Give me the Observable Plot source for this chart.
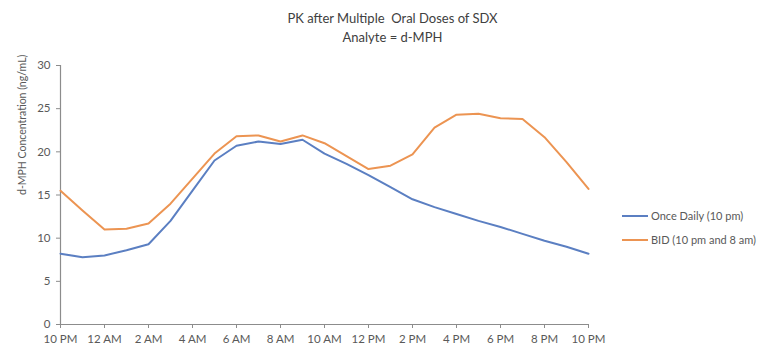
<!DOCTYPE html>
<html>
<head>
<meta charset="utf-8">
<script src="https://cdn.jsdelivr.net/npm/d3@7"></script>
<script src="https://cdn.jsdelivr.net/npm/@observablehq/plot@0.6"></script>
<style>
  body { margin: 0; background: #fff; }
  #wrap { position: relative; width: 775px; height: 352px; font-family: Lato, "Open Sans", sans-serif; }
  .title { position: absolute; left: 0; width: 785px; text-align: center; color: #404040; font-size: 13px; white-space: pre; }
  .legend { position: absolute; left: 622px; font-size: 11px; color: #595959; display: flex; align-items: center; }
  .legend span.sw { display: inline-block; width: 26px; height: 2px; margin-right: 3px; }
</style>
</head>
<body>
<div id="wrap"></div>
<script>
// Hours after the 10 PM dose (0 = 10 PM, 24 = 10 PM next day)
const hours = [0,1,2,3,4,5,6,7,8,9,10,11,12,13,14,15,16,17,18,19,20,21,22,23,24];
const onceDaily = [8.2,7.8,8.0,8.6,9.3,12.0,15.5,19.0,20.7,21.2,20.9,21.4,19.8,18.6,17.3,15.9,14.5,13.6,12.8,12.0,11.3,10.5,9.7,9.0,8.2];
const bid = [15.5,13.2,11.0,11.1,11.7,14.0,16.9,19.8,21.8,21.9,21.2,21.9,21.0,19.5,18.0,18.4,19.7,22.8,24.3,24.4,23.9,23.8,21.7,18.8,15.7];
const tickHours = [0,2,4,6,8,10,12,14,16,18,20,22,24];
const tickLabels = ["10 PM","12 AM","2 AM","4 AM","6 AM","8 AM","10 AM","12 PM","2 PM","4 PM","6 PM","8 PM","10 PM"];
const yTicks = [0,5,10,15,20,25,30];
const seriesNames = ["Once Daily (10 pm)", "BID (10 pm and 8 am)"];
const seriesColors = ["#5b7fc2", "#ec9452"];
const titleLines = ["PK after Multiple  Oral Doses of SDX", "Analyte = d-MPH"];
const yLabel = "d-MPH Concentration (ng/mL)";

const rows = [];
hours.forEach((h, i) => {
  rows.push({hour: h, value: onceDaily[i], series: seriesNames[0]});
  rows.push({hour: h, value: bid[i], series: seriesNames[1]});
});

const axisColor = "#8c8c8c";
const chart = Plot.plot({
  width: 775,
  height: 352,
  marginTop: 65,
  marginRight: 187,
  marginBottom: 28,
  marginLeft: 60,
  style: {fontFamily: "Lato, 'Open Sans', sans-serif", fontSize: "11.5px", color: "#595959", background: "#fff"},
  x: {domain: [0, 24]},
  y: {domain: [0, 30]},
  color: {domain: seriesNames, range: seriesColors},
  marks: [
    Plot.ruleX([0], {stroke: axisColor, strokeWidth: 1.2}),
    Plot.ruleY([0], {stroke: axisColor, strokeWidth: 1.2}),
    Plot.axisY({ticks: yTicks, tickSize: 4, tickPadding: 6, label: null, stroke: axisColor, fill: "#595959"}),
    Plot.axisX({ticks: tickHours, tickFormat: (d) => tickLabels[tickHours.indexOf(d)], tickSize: 4, tickPadding: 6, label: null, stroke: axisColor, fill: "#595959"}),
    Plot.text([yLabel], {frameAnchor: "left", dx: -38, rotate: -90, fontSize: 10.5, fill: "#595959"}),
    Plot.lineY(rows, {x: "hour", y: "value", stroke: "series", strokeWidth: 2})
  ]
});

const wrap = document.getElementById("wrap");
wrap.appendChild(chart);

titleLines.forEach((t, i) => {
  const d = document.createElement("div");
  d.className = "title";
  d.style.top = (10 + i * 19) + "px";
  d.textContent = t;
  wrap.appendChild(d);
});

seriesNames.forEach((name, i) => {
  const d = document.createElement("div");
  d.className = "legend";
  d.style.top = (209 + i * 24) + "px";
  const sw = document.createElement("span");
  sw.className = "sw";
  sw.style.background = seriesColors[i];
  d.appendChild(sw);
  d.appendChild(document.createTextNode(name));
  wrap.appendChild(d);
});
</script>
</body>
</html>
